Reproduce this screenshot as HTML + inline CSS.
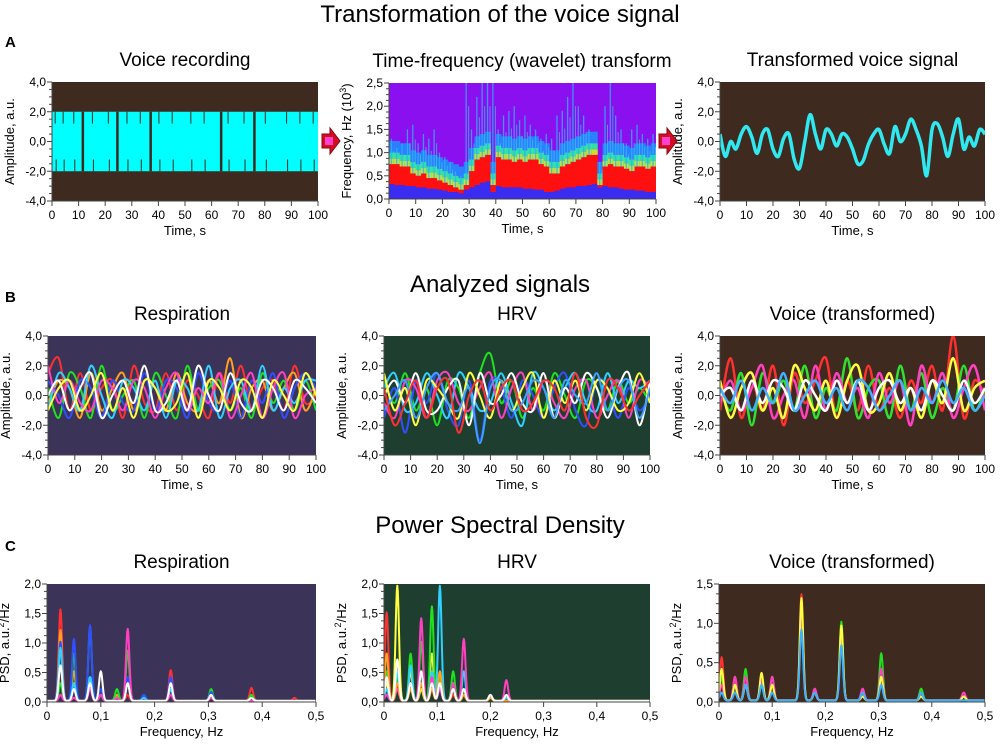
<!DOCTYPE html>
<html><head><meta charset="utf-8"><style>
html,body{margin:0;padding:0;background:#fff}
svg{display:block;font-family:"Liberation Sans",Arial,sans-serif}
</style></head><body>
<svg id="fig" width="1000" height="749" viewBox="0 0 1000 749">
<text x="500" y="22" font-size="24" text-anchor="middle">Transformation of the voice signal</text>
<text x="500" y="292" font-size="24" text-anchor="middle">Analyzed signals</text>
<text x="500" y="533" font-size="24" text-anchor="middle">Power Spectral Density</text>
<text x="5" y="47" font-size="15" font-weight="bold">A</text>
<text x="5" y="302" font-size="15" font-weight="bold">B</text>
<text x="5" y="551" font-size="15" font-weight="bold">C</text>
<g id="root"></g>
</svg>
<script>
// ---------- data ----------
const voiceGaps=[11.5,24.5,37,63.5,76];
const voiceThin=[1,4,8,15,21,28,33,40,45,52,57,66,72,80,88,93,98];
const transTime=[0,2,4,6,8,10,12,14,16,18,20,22,24,26,28,30,32,34,36,38,40,42,44,46,48,50,52,54,56,58,60,62,64,66,68,70,72,74,76,78,80,82,84,86,88,90,92,94,96,98,100];
const transVals=[0.5,-1,0,-0.5,0.5,1,0.3,-0.8,0.5,0.8,-0.5,-1,0.2,0.5,-1.2,-1.8,0,1.8,0.5,-0.5,0.8,0.5,-0.3,0.5,0.3,-0.5,-1.5,-1.3,-0.2,0.5,0.8,-0.2,-0.8,1,0,0.5,1.5,0.8,-0.3,-2.3,0.8,1.2,0.3,-1,0.5,1.5,-0.5,0.3,-0.3,0.8,0.5];
const specCols=[0,2,4,6,8,10,12,14,16,18,20,22,24,26,28,30,32,34,36,38,40,42,44,46,48,50,52,54,56,58,60,62,64,66,68,70,72,74,76,78,80,82,84,86,88,90,92,94,96,98];
const specBlue=[0.32,0.3,0.3,0.28,0.28,0.25,0.25,0.22,0.22,0.2,0.18,0.15,0.15,0.12,0.2,0.25,0.3,0.35,0.38,0.15,0.28,0.25,0.25,0.25,0.25,0.22,0.22,0.2,0.2,0.15,0.15,0.18,0.22,0.25,0.25,0.28,0.28,0.3,0.32,0.25,0.28,0.25,0.25,0.22,0.2,0.2,0.18,0.18,0.15,0.15];
const specRed=[0.75,0.75,0.7,0.7,0.55,0.5,0.55,0.45,0.45,0.4,0.35,0.3,0.25,0.2,0.3,0.6,0.85,0.9,0.95,0.3,0.9,0.85,0.85,0.8,0.85,0.8,0.85,0.85,0.75,0.7,0.55,0.55,0.7,0.75,0.8,0.85,0.9,0.95,0.95,0.3,0.7,0.75,0.7,0.7,0.65,0.6,0.7,0.7,0.65,0.7];
const specHigh=[1.3,1.1,1.2,1.5,1.6,1.2,1.4,1.3,1.5,1.0,0.9,0.8,0.6,0.5,2.5,1.5,2.2,2.5,2.5,2.5,1.5,1.8,1.9,2.0,1.7,1.8,1.6,1.5,1.3,1.4,1.3,1.8,1.9,2.2,2.5,2.0,1.8,1.5,0.9,0.8,2.0,2.5,1.8,1.5,1.2,1.5,1.6,1.4,1.3,1.4];
const bTime=[0,4,8,12,16,20,24,28,32,36,40,44,48,52,56,60,64,68,72,76,80,84,88,92,96,100];
const respSeries=[
[1.5,2.5,-1,1.5,-1,0.5,1,-1.5,2,-0.5,-1,1.5,-1,1,0,-1.5,1.5,-0.5,2,-1,0.5,1,-1,2,-0.5,0],
[-0.5,1,0.5,-1.5,1.5,-1,0.5,1.5,-1,1,0.5,-1,1.5,-0.5,-1,1,-0.5,2.5,-1.5,0.5,1,-1,0.5,1.5,-1,0.5],
[0.5,-1.5,1.5,0.5,-1.5,2,-1,0,1,-1.5,1.5,0,-1.5,2,-1,0.5,1,-1,0.5,-1.5,1.5,-0.5,1,-1,1,-1],
[1,0,-1.5,1,0.5,-1.5,1,-0.5,-1,1.5,-1,1,0.5,-1.5,1.5,-0.5,-1,1,-1.5,1,-0.5,1.5,-1.5,0.5,1.5,0.5],
[-1,1.5,0.5,-1,2,0,-1.5,1,0.5,-1,1,-1.5,1,0.5,-1,2,-1.5,0.5,1,-1,2,-1,0.5,-0.5,1,1],
[2,-0.5,1,-0.5,-1,1,0.5,-1,1,0.5,-1.5,0.5,1.5,-1,0.5,-0.5,1.5,-1.5,0,1.5,-1.5,0.5,1.5,-1.5,0,0.5],
[0,1,-1,0.5,1.5,-1.5,0,1,-0.5,2,-1,-0.5,1,-1,2,0,-1,1.5,-0.5,-1,1,0.5,-1,1,0.5,-0.5],
[-1,0.5,1,-1,0,1.5,-1,0.5,-1.5,1,0.5,-1,-0.5,1.5,-1.5,1,0.5,-1,1,0.5,-1.5,1,0,-1,1.5,0]];
const hrvSeries=[
[1,-0.5,1.5,-1,0.5,-2,1,0.5,-1.5,1.5,2.8,-0.5,1,-1.5,0.5,-1,1.5,0,-1.5,1,0.5,-1,1,-0.5,0.5,-0.5],
[-1.5,0.5,-2.5,1,-0.5,1.5,-1,-2,1,-3,1,0.5,-1.5,1,0,-1.5,0.5,1.5,-1,-2,1,0.5,-1.5,0.5,-1,0],
[0.5,1.5,-1,-0.5,1.5,0,-1.5,1.5,0.5,-1,-0.5,1.5,-0.5,-2,1.5,0.5,-1,0.5,1.5,-0.5,-1,1.5,-0.5,1,0.5,1],
[-0.5,-1.5,1,0.5,-1.5,1,1.5,-0.5,-1,0.5,1.5,-1.5,0.5,1.5,-1,1,-0.5,-1.5,0.5,1,-1.5,0,1,-1.5,1,0.5],
[0,1,-0.5,1.5,-1,-1,0.5,1,-2,1.5,-0.5,0,1.5,-0.5,-1,1.5,-1.5,0.5,-0.5,1.5,0.5,-1.5,0.5,1.5,-2,1],
[1.5,-1,0.5,-2,1,0.5,-0.5,-1.5,1.5,0,-1.5,1,-1,0.5,1.5,-1.5,1,-0.5,1,-1,1,0.5,-1,-0.5,1.5,-0.5],
[-1,0,1,-1.5,0.5,1.5,-0.5,-1,0.5,-3.2,0.5,1,-1,-0.5,1,0.5,-1.5,1,0,-0.5,1.5,-1,0.5,1,-1.5,0.5],
[0.5,-2,-0.5,1,-1.5,0.5,1,-2.5,0,1,-1,0.5,1,-1,-0.5,1,0.5,-1,1.5,-1.5,-2,1,0.5,-1,0,1]];
const voiceSeries=[
[-1,2.5,-1.5,1,-1,2,-2,1.5,-0.5,1,2.5,-1.5,1,-1,2,-1,0.5,-1.5,1,-0.5,2,-1,4,-1.5,1,0],
[0.5,-1,1.5,-2,1.5,-0.5,1,-1,2,-1.5,0.5,-1,2.5,-1.5,0.5,1,-1.5,2,-1,1.5,-1.5,0.5,-1,2,-1,0.5],
[-0.5,1,-1,0.5,2,-1.5,0,1,-1.5,2,-1,1.5,-0.5,0.5,-1.5,1.5,-0.5,1,-2,2,-0.5,1.5,-1.5,0.5,2,-1],
[1,-1.5,0.5,1.5,-1,0.5,-1.5,2,0.5,-1,1,-1.5,1,2,-1,-0.5,1.5,-1,0.5,-1.5,1,-0.5,2.5,-1,0.5,1],
[0,0.5,-1,1,-0.5,1,0.5,-1,1,0,-1,1,-0.5,1,-1,0.5,1,-0.5,0.5,-1,1,0,-1,1,-0.5,0.5],
[0.5,-0.5,1,-1,0.5,-0.5,1.5,-1,0,1,-0.5,0.5,-1,1,0.5,-1,0,1,-1,0.5,-0.5,1,-0.5,0.5,-1,0]];
const respColors=["#ff3030","#ffa020","#20e020","#3050ff","#30d0ff","#ff40c0","#ffffff","#ffff40","#40a0ff"];
const psdFreqR=[0.025,0.05,0.08,0.1,0.13,0.15,0.18,0.23,0.305,0.38,0.46];
const psdR=[[1.55,0.3,0.3,0.1,0,0.1,0.05,0.52,0.1,0.22,0.05],[1.2,0.5,0.4,0.1,0.1,0.3,0.05,0.3,0.1,0.05,0],[0.3,0.8,1.25,0.1,0.2,0.85,0.1,0.3,0.2,0.1,0],[1.0,1.05,1.28,0.2,0,0.4,0.1,0.4,0.15,0,0],[0.9,0.3,0.4,0.1,0,0.3,0.05,0.2,0.1,0,0],[0.1,0.05,0.2,0.1,0.05,1.22,0,0.1,0.05,0,0],[0.6,0.2,0.3,0.5,0,0.3,0,0.3,0.1,0.05,0]];
const psdFreqH=[0.005,0.025,0.05,0.07,0.09,0.105,0.13,0.15,0.2,0.23];
const psdH=[[1.5,0.6,0.5,0.3,0.2,0.3,0.1,0.2,0.1,0.05],[0.3,1.95,0.5,0.2,0.8,0.3,0.2,0.1,0.05,0],[0.5,0.4,0.8,1.0,1.6,0.4,0.5,0.2,0.1,0],[0.2,0.5,0.6,0.5,0.5,1.95,0.3,0.5,0.1,0.05],[0.1,0.2,0.3,1.4,0.4,0.2,0.3,1.05,0.1,0.35],[0.8,0.3,0.2,0.3,0.2,0.5,0.2,0.1,0.05,0],[0.4,0.7,0.3,0.5,0.3,0.3,0.2,0.2,0.1,0.1]];
const psdFreqV=[0.005,0.03,0.05,0.08,0.1,0.155,0.18,0.23,0.27,0.305,0.38,0.46];
const psdV=[[0.55,0.3,0.2,0.3,0.2,1.35,0.1,0.9,0.1,0.3,0.1,0.1],[0.3,0.2,0.4,0.2,0.3,1.2,0.1,1.0,0.1,0.6,0.15,0.05],[0.2,0.3,0.3,0.25,0.3,1.1,0.15,0.8,0.15,0.4,0.1,0.1],[0.4,0.2,0.2,0.35,0.2,1.3,0.1,0.95,0.05,0.3,0.05,0.05],[0.1,0.1,0.2,0.2,0.1,0.9,0.1,0.7,0.1,0.2,0.1,0]];

// ---------- helpers ----------
const NS="http://www.w3.org/2000/svg";
const root=document.getElementById('root');
function el(tag,attrs,parent){const e=document.createElementNS(NS,tag);for(const k in attrs)e.setAttribute(k,attrs[k]);(parent||root).appendChild(e);return e;}
function panel(o){
  const g=el('g',{});
  
  
  const sx=v=>o.x0+(v-o.xmin)/(o.xmax-o.xmin)*(o.x1-o.x0);
  const sy=v=>o.y1-(v-o.ymin)/(o.ymax-o.ymin)*(o.y1-o.y0);
  const bg=el('rect',{x:o.x0,y:o.y0,width:o.x1-o.x0,height:o.y1-o.y0,fill:o.bg},g);
  
  
  const clipId='c'+o.name;
  const cp=el('clipPath',{id:clipId},g);el('rect',{x:o.x0,y:o.y0,width:o.x1-o.x0,height:o.y1-o.y0},cp);
  const marks=el('g',{'clip-path':`url(#${clipId})`},g);
  o.draw(marks,sx,sy);
  el('line',{x1:o.x0,y1:o.y0,x2:o.x0,y2:o.y1,stroke:'#444','stroke-width':1},g);
  el('line',{x1:o.x0,y1:o.y1,x2:o.x1,y2:o.y1,stroke:'#444','stroke-width':1},g);
  o.yt.forEach((t,i)=>{const y=sy(t);el('line',{x1:o.x0-5,y1:y,x2:o.x0,y2:y,stroke:'#444'},g);
    const tx=el('text',{x:o.x0-6,y:y+4,'font-size':12,'text-anchor':'end'},g);tx.textContent=o.ytl[i];
    
    if(i<o.yt.length-1){const n=4;for(let k=1;k<n;k++){const yy=sy(t+(o.yt[i+1]-t)*k/n);el('line',{x1:o.x0-3,y1:yy,x2:o.x0,y2:yy,stroke:'#444'},g);}}});
  o.xt.forEach((t,i)=>{const x=sx(t);el('line',{x1:x,y1:o.y1,x2:x,y2:o.y1+5,stroke:'#444'},g);
    const tx=el('text',{x:x,y:o.y1+18,'font-size':12,'text-anchor':'middle'},g);tx.textContent=o.xtl[i];
    });
  const xl=el('text',{x:(o.x0+o.x1)/2,y:o.y1+34,'font-size':13,'text-anchor':'middle'},g);xl.textContent=o.xlabel;
  
  const yc=(o.y0+o.y1)/2;
  const yl=el('text',{x:o.x0-38,y:yc,'font-size':13,'text-anchor':'middle',transform:`rotate(-90 ${o.x0-38} ${yc})`},g);yl.innerHTML=o.ylabel;
  
  const t=el('text',{x:o.tx||(o.x0+o.x1)/2,y:o.y0-16,'font-size':19,'text-anchor':'middle'},g);t.textContent=o.title;
  
}
const timeX=[0,10,20,30,40,50,60,70,80,90,100];
const timeXL=timeX.map(String);
const ampT=[-4,-2,0,2,4],ampTL=["-4,0","-2,0","0,0","2,0","4,0"];
const fX=[0,0.1,0.2,0.3,0.4,0.5],fXL=["0","0,1","0,2","0,3","0,4","0,5"];
function line(g,sx,sy,xs,ys,color,w){
  const p=el('polyline',{points:xs.map((x,i)=>sx(x)+','+sy(ys[i])).join(' '),fill:'none',stroke:color,'stroke-width':w,'stroke-linejoin':'round'},g);
  
  
}
function smooth(g,sx,sy,xs,ys,color,w){
  const P=xs.map((x,i)=>[sx(x),sy(ys[i])]);
  let d='M'+P[0][0]+','+P[0][1];
  for(let i=0;i<P.length-1;i++){const p0=P[Math.max(0,i-1)],p1=P[i],p2=P[i+1],p3=P[Math.min(P.length-1,i+2)];
    d+=` C${p1[0]+(p2[0]-p0[0])/6},${p1[1]+(p2[1]-p0[1])/6} ${p2[0]-(p3[0]-p1[0])/6},${p2[1]-(p3[1]-p1[1])/6} ${p2[0]},${p2[1]}`;}
  const p=el('path',{d:d,fill:'none',stroke:color,'stroke-width':w,'stroke-linejoin':'round'},g);
  
  
}
function psd(g,sx,sy,freqs,series,colors,w){
  series.forEach((hs,si)=>{const xs=[],ys=[];
    for(let f=0;f<=0.5;f+=0.001){let v=0.02;freqs.forEach((c,j)=>{v+=hs[j]*Math.exp(-Math.pow((f-c)/0.0045,2));});xs.push(f);ys.push(v);}
    line(g,sx,sy,xs,ys,colors[si%colors.length],w);});
}
const brown="#3e2a1e";
panel({name:'voice-recording-chart',x0:52,x1:318,y0:82,y1:201,xmin:0,xmax:100,ymin:-4,ymax:4,bg:brown,title:'Voice recording',xlabel:'Time, s',ylabel:'Amplitude, a.u.',xt:timeX,xtl:timeXL,yt:ampT,ytl:ampTL,
 draw:(g,sx,sy)=>{const r=el('rect',{x:sx(0),y:sy(2),width:sx(100)-sx(0),height:sy(-2)-sy(2),fill:'#00ffff'},g);
  
  voiceGaps.forEach(t=>{el('rect',{x:sx(t)-1,y:sy(2),width:2.5,height:sy(-2)-sy(2),fill:brown},g);});
  voiceThin.forEach(t=>{el('rect',{x:sx(t),y:sy(2),width:1,height:sy(1.2)-sy(2),fill:brown},g);el('rect',{x:sx(t)+1,y:sy(-1.2),width:1,height:sy(-2)-sy(-1.2),fill:brown},g);});}});
panel({name:'wavelet-spectrogram',x0:389,x1:656,y0:83,y1:199,xmin:0,xmax:100,ymin:0,ymax:2.5,bg:'#8a10f0',title:'Time-frequency (wavelet) transform',tx:522,xlabel:'Time, s',ylabel:'Frequency, Hz (10<tspan baseline-shift="super" font-size="9">3</tspan>)',xt:timeX,xtl:timeXL,yt:[0,0.5,1,1.5,2,2.5],ytl:["0,0","0,5","1,0","1,5","2,0","2,5"],
 draw:(g,sx,sy)=>{specCols.forEach((t,i)=>{const x=sx(t),w=sx(t+2)-sx(t)+0.5;
   const hi=specHigh[i],rd=specRed[i],bl=specBlue[i];
   el('rect',{x:x,y:sy(rd+0.5),width:w,height:sy(rd+0.25)-sy(rd+0.5),fill:'#2a80ff'},g);
   el('rect',{x:x,y:sy(rd+0.25),width:w,height:sy(rd+0.12)-sy(rd+0.25),fill:'#30e0a0'},g);
   el('rect',{x:x,y:sy(rd+0.12),width:w,height:sy(rd)-sy(rd+0.12),fill:'#c8e030'},g);
   el('rect',{x:x,y:sy(rd),width:w,height:sy(bl)-sy(rd),fill:'#ff1010'},g);
   el('rect',{x:x,y:sy(bl),width:w,height:sy(0)-sy(bl),fill:'#3a2cf0'},g);
   el('rect',{x:x+w*0.3,y:sy(hi),width:1.3,height:sy(rd)-sy(hi),fill:'#30b0ff',opacity:0.8},g);
   el('rect',{x:x+w*0.75,y:sy(hi*0.8),width:1,height:sy(rd)-sy(hi*0.8),fill:'#40e0e0',opacity:0.6},g);
  });}});
panel({name:'transformed-voice-chart',x0:720,x1:985,y0:82,y1:201,xmin:0,xmax:100,ymin:-4,ymax:4,bg:brown,title:'Transformed voice signal',xlabel:'Time, s',ylabel:'Amplitude, a.u.',xt:timeX,xtl:timeXL,yt:ampT,ytl:ampTL,
 draw:(g,sx,sy)=>smooth(g,sx,sy,transTime,transVals,'#30e8f0',3.5)});
panel({name:'respiration-signals-chart',x0:48,x1:316,y0:336,y1:455,xmin:0,xmax:100,ymin:-4,ymax:4,bg:'#3b3358',title:'Respiration',xlabel:'Time, s',ylabel:'Amplitude, a.u.',xt:timeX,xtl:timeXL,yt:ampT,ytl:ampTL,
 draw:(g,sx,sy)=>respSeries.forEach((s,i)=>smooth(g,sx,sy,bTime,s,respColors[i],2))});
panel({name:'hrv-signals-chart',x0:384,x1:650,y0:336,y1:455,xmin:0,xmax:100,ymin:-4,ymax:4,bg:'#1e3f30',title:'HRV',xlabel:'Time, s',ylabel:'Amplitude, a.u.',xt:timeX,xtl:timeXL,yt:ampT,ytl:ampTL,
 draw:(g,sx,sy)=>hrvSeries.forEach((s,i)=>smooth(g,sx,sy,bTime,s,respColors[(i+2)%9],2))});
panel({name:'voice-signals-chart',x0:720,x1:985,y0:336,y1:455,xmin:0,xmax:100,ymin:-4,ymax:4,bg:brown,title:'Voice (transformed)',xlabel:'Time, s',ylabel:'Amplitude, a.u.',xt:timeX,xtl:timeXL,yt:ampT,ytl:ampTL,
 draw:(g,sx,sy)=>voiceSeries.forEach((s,i)=>smooth(g,sx,sy,bTime,s,["#ff3030","#30e030","#ff40c0","#ffff40","#ffffff","#40b0ff"][i],2.5))});
const psdYL='PSD, a.u.<tspan baseline-shift="super" font-size="9">2</tspan>/Hz';
panel({name:'respiration-psd-chart',x0:47,x1:316,y0:584,y1:702,xmin:0,xmax:0.5,ymin:0,ymax:2,bg:'#3b3358',title:'Respiration',xlabel:'Frequency, Hz',ylabel:psdYL,xt:fX,xtl:fXL,yt:[0,0.5,1,1.5,2],ytl:["0,0","0,5","1,0","1,5","2,0"],
 draw:(g,sx,sy)=>psd(g,sx,sy,psdFreqR,psdR,respColors,2)});
panel({name:'hrv-psd-chart',x0:384,x1:650,y0:584,y1:702,xmin:0,xmax:0.5,ymin:0,ymax:2,bg:'#1e3f30',title:'HRV',xlabel:'Frequency, Hz',ylabel:psdYL,xt:fX,xtl:fXL,yt:[0,0.5,1,1.5,2],ytl:["0,0","0,5","1,0","1,5","2,0"],
 draw:(g,sx,sy)=>psd(g,sx,sy,psdFreqH,psdH,["#ff3030","#ffff40","#20e020","#30d0ff","#ff40c0","#ffa020","#ffffff"],2)});
panel({name:'voice-psd-chart',x0:719,x1:985,y0:584,y1:702,xmin:0,xmax:0.5,ymin:0,ymax:1.5,bg:brown,title:'Voice (transformed)',xlabel:'Frequency, Hz',ylabel:psdYL,xt:fX,xtl:fXL,yt:[0,0.5,1,1.5],ytl:["0,0","0,5","1,0","1,5"],
 draw:(g,sx,sy)=>psd(g,sx,sy,psdFreqV,psdV,["#ff3030","#20e020","#ff40c0","#ffff40","#40b0ff"],2)});
[[322,141],[659,141]].forEach(([x,y])=>{
  const a=el('polygon',{points:`${x},${y-7} ${x+8},${y-7} ${x+8},${y-13} ${x+18},${y} ${x+8},${y+13} ${x+8},${y+7} ${x},${y+7}`,fill:'#d01020',stroke:'#900010'});
  
  
  el('rect',{x:x+3,y:y-4,width:8,height:8,fill:'#ff40d0'});
});
</script>
</body></html>
